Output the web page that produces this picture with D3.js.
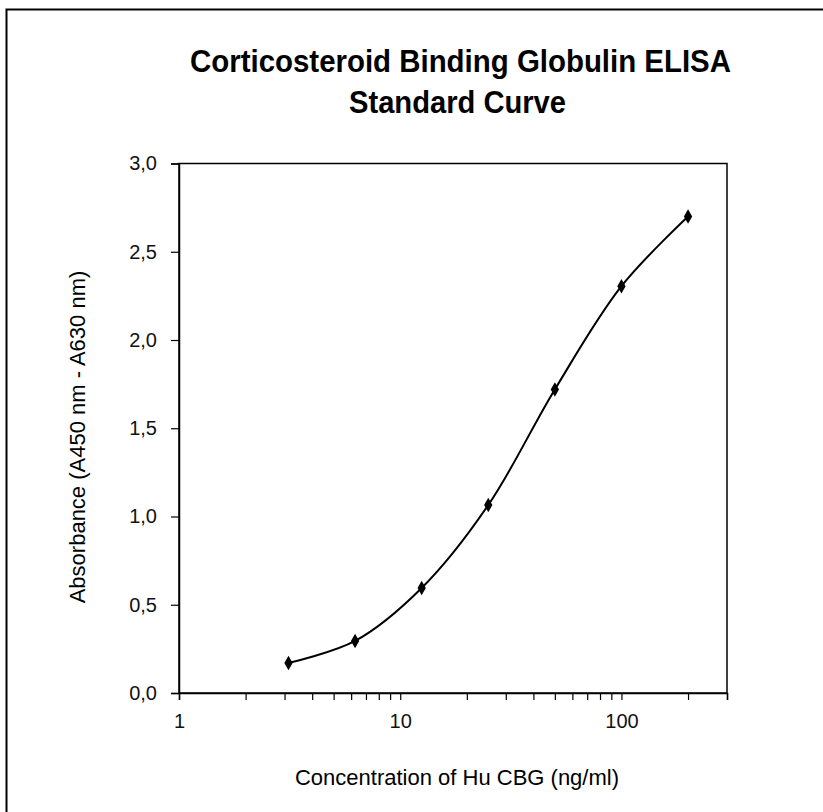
<!DOCTYPE html>
<html>
<head>
<meta charset="utf-8">
<script src="https://cdn.jsdelivr.net/npm/d3@7"></script>
<style>
  body { margin: 0; background: #fff; }
  svg { display: block; }
</style>
</head>
<body>
<svg id="chart"></svg>
<script>
// standard curve data
const concentrations = [3.125, 6.25, 12.5, 25, 50, 100, 200];
const absorbance = [0.17, 0.295, 0.595, 1.065, 1.72, 2.305, 2.70];
const xTickValues = [1, 2, 3, 4, 5, 6, 7, 8, 9, 10, 20, 30, 40, 50, 60, 70, 80, 90, 100, 200, 300];
const xTickLabels = { 1: '1', 10: '10', 100: '100' };
const yTickValues = [0, 0.5, 1, 1.5, 2, 2.5, 3];
const titleLines = ['Corticosteroid Binding Globulin ELISA', 'Standard Curve'];
const titleWidths = [541, 217];

const W = 823, H = 812;
const margin = { top: 163.5, right: 96, bottom: 119, left: 179 };
const width = W - margin.left - margin.right;
const height = H - margin.top - margin.bottom;

const svg = d3.select('#chart').attr('width', W).attr('height', H);

// outer frame (only top & left visible)
svg.append('path')
  .attr('d', `M6.5,${H + 5} V9.5 H${W + 5}`)
  .attr('fill', 'none')
  .attr('stroke', '#000')
  .attr('stroke-width', 2);

const g = svg.append('g')
  .attr('transform', `translate(${margin.left}, ${margin.top})`);

const x = d3.scaleLog().domain([1, 300]).range([0, width]);
const y = d3.scaleLinear().domain([0, 3]).range([height, 0]);

// plot box
g.append('rect')
  .attr('width', width)
  .attr('height', height)
  .attr('fill', 'none')
  .attr('stroke', '#000')
  .attr('stroke-width', 1.5);

const xAxis = g.append('g')
  .attr('transform', `translate(0, ${height})`)
  .call(d3.axisBottom(x)
    .tickValues(xTickValues)
    .tickSize(7)
    .tickPadding(10)
    .tickFormat(d => xTickLabels[d] || ''));

const yAxis = g.append('g')
  .call(d3.axisLeft(y)
    .tickValues(yTickValues)
    .tickSize(8)
    .tickPadding(14)
    .tickFormat(d => d3.format('.1f')(d).replace('.', ',')));

[xAxis, yAxis].forEach(a => {
  a.select('.domain').attr('stroke-width', 1.5);
  a.selectAll('line').attr('stroke-width', 1.2);
  a.selectAll('text')
    .style('font-family', '"Liberation Sans", Arial, sans-serif')
    .style('font-size', '20px')
    .attr('fill', '#111');
});
xAxis.selectAll('text').attr('dy', '0.9em');

// curve
const pts = concentrations.map((c, i) => [c, absorbance[i]]);
const line = d3.line()
  .x(d => x(d[0]))
  .y(d => y(d[1]))
  .curve(d3.curveCatmullRom.alpha(0.5));

g.append('path')
  .datum(pts)
  .attr('d', line)
  .attr('fill', 'none')
  .attr('stroke', '#000')
  .attr('stroke-width', 2);

g.selectAll('.pt')
  .data(pts)
  .enter().append('path')
  .attr('class', 'pt')
  .attr('transform', d => `translate(${x(d[0])}, ${y(d[1])})`)
  .attr('d', d3.symbol(d3.symbolDiamond).size(60))
  .attr('fill', '#000');

// title (condensed bold look)
svg.selectAll('.title')
  .data(titleLines)
  .enter().append('text')
  .attr('class', 'title')
  .attr('text-anchor', 'middle')
  .attr('x', (d, i) => i === 0 ? 460.5 : 457.5)
  .attr('y', (d, i) => 72 + i * 41)
  .attr('textLength', (d, i) => titleWidths[i])
  .attr('lengthAdjust', 'spacingAndGlyphs')
  .style('font-family', '"Liberation Sans", Arial, sans-serif')
  .style('font-weight', 'bold')
  .style('font-size', '31px')
  .text(d => d);

// axis labels
svg.append('text')
  .attr('text-anchor', 'middle')
  .attr('x', 457)
  .attr('y', 785)
  .style('font-family', '"Liberation Sans", Arial, sans-serif')
  .style('font-size', '22px')
  .text('Concentration of Hu CBG  (ng/ml)');

svg.append('text')
  .attr('text-anchor', 'middle')
  .attr('transform', 'translate(85, 437) rotate(-90)')
  .style('font-family', '"Liberation Sans", Arial, sans-serif')
  .style('font-size', '22px')
  .text('Absorbance (A450 nm - A630 nm)');
</script>
</body>
</html>
